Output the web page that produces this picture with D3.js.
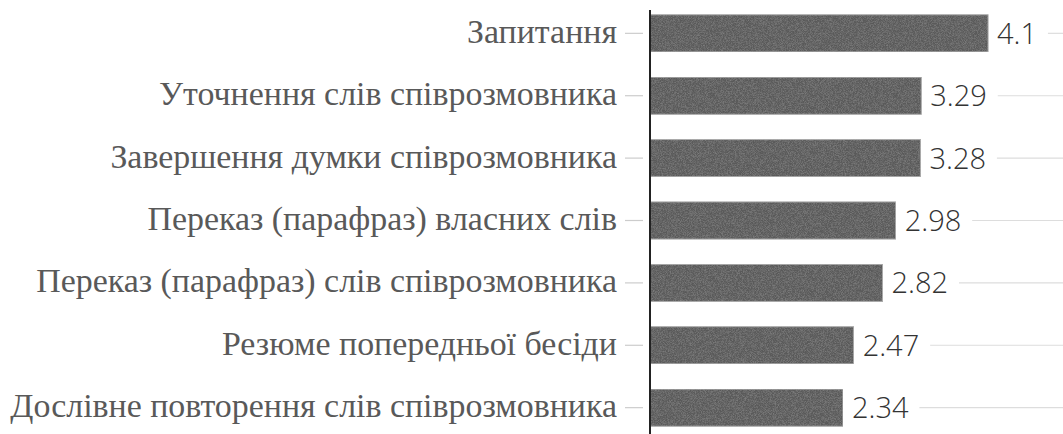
<!DOCTYPE html>
<html>
<head>
<meta charset="utf-8">
<script src="https://cdn.jsdelivr.net/npm/d3@7"></script>
</head>
<body style="margin:0;background:#fff">
<svg id="chart" width="1063" height="434" style="display:block"></svg>
<script>
// Techniques of active listening, mean scores
const categories = [
  "Запитання",
  "Уточнення слів співрозмовника",
  "Завершення думки співрозмовника",
  "Переказ (парафраз) власних слів",
  "Переказ (парафраз) слів співрозмовника",
  "Резюме попередньої бесіди",
  "Дослівне повторення слів співрозмовника"
];
const values = [4.1, 3.29, 3.28, 2.98, 2.82, 2.47, 2.34];
const valueLabels = ["4.1", "3.29", "3.28", "2.98", "2.82", "2.47", "2.34"];

const W = 1063, H = 434;
const axisX = 650;
const labelRight = 617;
const valueSize = 29;
const svg = d3.select("#chart");

const x = d3.scaleLinear().domain([0, 1]).range([axisX, axisX + 82.45]);
const y = d3.scaleBand().domain(categories).range([2.3, 438.7]).paddingInner(0.405).paddingOuter(0.2);
const cy = d => y(d) + y.bandwidth() / 2;

// category labels
const catText = svg.selectAll("text.cat").data(categories).join("text")
  .attr("class", "cat")
  .attr("font-family", "Liberation Serif")
  .style("font-family", d => '"Liberation Serif"')
  .attr("font-size", 29)
  .attr("x", labelRight)
  .attr("y", d => cy(d) + 9.5)
  .attr("text-anchor", "end")
  .attr("fill", "#595959")
  .text(d => d);

// fine grain on the bars
const defs = svg.append("defs");
const grain = defs.append("filter").attr("id", "grain")
  .attr("x", 0).attr("y", 0).attr("width", 1).attr("height", 1);
grain.append("feTurbulence").attr("type", "fractalNoise")
  .attr("baseFrequency", 1.4).attr("numOctaves", 1).attr("seed", 3).attr("result", "noise");
grain.append("feColorMatrix").attr("in", "noise").attr("type", "matrix")
  .attr("values", "0 0 0 0 0.5  0 0 0 0 0.5  0 0 0 0 0.5  0 0 0 0.6 -0.22")
  .attr("result", "dots");
grain.append("feComposite").attr("in", "dots").attr("in2", "SourceGraphic")
  .attr("operator", "in").attr("result", "dotsIn");
grain.append("feMerge").call(m => {
  m.append("feMergeNode").attr("in", "SourceGraphic");
  m.append("feMergeNode").attr("in", "dotsIn");
});

// short leader from label to axis
svg.append("g").selectAll("line").data(categories).join("line")
  .attr("x1", 625).attr("x2", 643)
  .attr("y1", cy).attr("y2", cy)
  .attr("stroke", "#ccc").attr("stroke-width", 1.2);

// bars
svg.append("g").selectAll("rect").data(categories).join("rect")
  .attr("x", x(0))
  .attr("y", d => y(d))
  .attr("width", (d, i) => x(values[i]) - x(0))
  .attr("height", y.bandwidth())
  .attr("fill", "#5a5a5a")
  .attr("stroke", "#a8a8a8")
  .attr("stroke-width", 1)
  .attr("filter", "url(#grain)");

// value labels
svg.selectAll("text.val").data(categories).join("text")
  .attr("class", "val")
  .style("font-family", d => '"Open Sans"')
  .style("font-weight", "300")
  .attr("font-size", valueSize)
  .attr("x", (d, i) => x(values[i]) + 9)
  .attr("y", d => cy(d) + 10.4)
  .attr("fill", "#333")
  .text((d, i) => valueLabels[i]);

// leader from value label to the right edge (Open Sans advance widths, em)
const advance = ch => ch === "." ? 0.266 : 0.572;
const labelWidth = s => valueSize * d3.sum(Array.from(s), advance);
svg.append("g").selectAll("line").data(categories).join("line")
  .attr("x1", (d, i) => x(values[i]) + 9 + labelWidth(valueLabels[i]) + 10)
  .attr("x2", W)
  .attr("y1", cy).attr("y2", cy)
  .attr("stroke", "#ddd").attr("stroke-width", 1.2);

// vertical baseline
svg.append("line")
  .attr("x1", axisX).attr("x2", axisX)
  .attr("y1", 10).attr("y2", H)
  .attr("stroke", "#222").attr("stroke-width", 2);

// once fonts are settled, size the labels so the longest spans x=10..labelRight
document.fonts.ready.then(() => {
  const longest = d3.max(catText.nodes(), n => n.getComputedTextLength());
  if (longest > 0) catText.attr("font-size", 29 * (labelRight - 10) / longest);
});
</script>
</body>
</html>
